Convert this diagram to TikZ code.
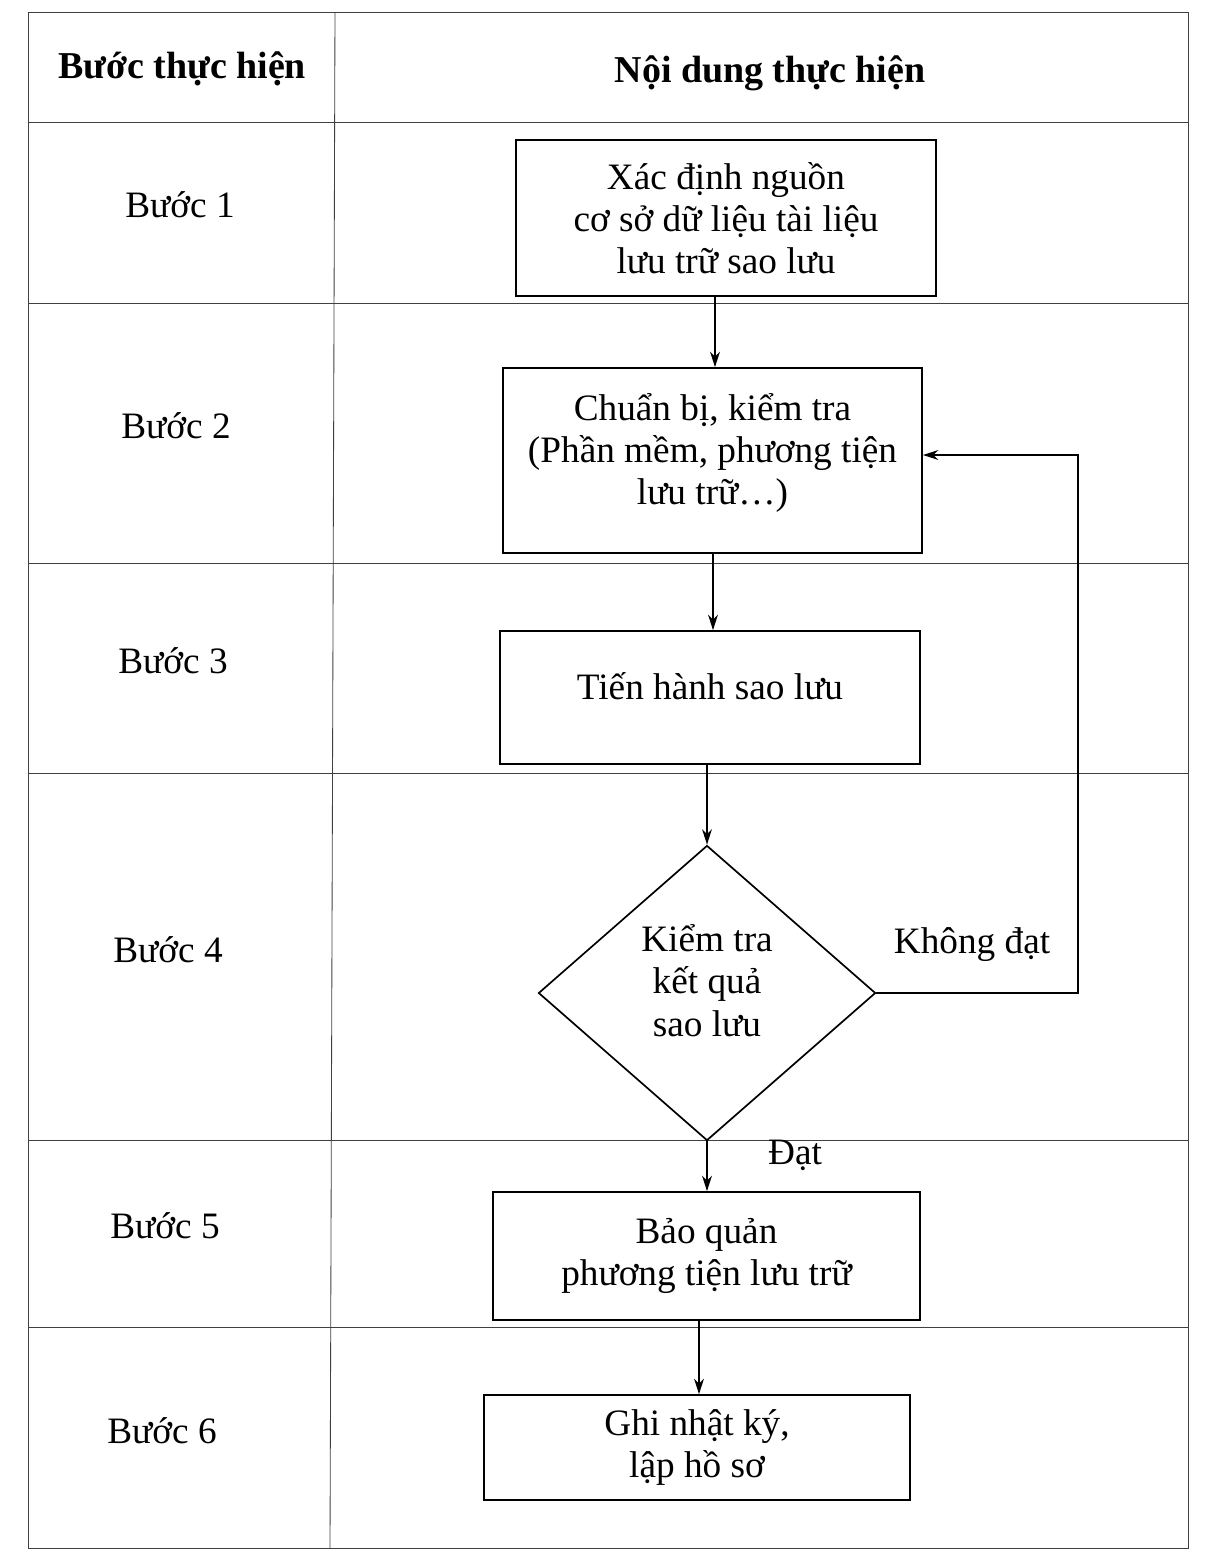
\documentclass[tikz,border=0pt]{standalone}
\usepackage{fontspec}
\setmainfont{Liberation Serif}
\usetikzlibrary{shapes.geometric,arrows.meta}
\begin{document}
\begin{tikzpicture}[x=0.025cm,y=-0.025cm,
    grid/.style={line width=0.6pt,black!75},
    txt/.style={font=\fontsize{26.5}{30}\selectfont,align=center},
    stepbox/.style={draw,line width=1.2pt,inner sep=0pt,font=\fontsize{26.5}{30}\selectfont,align=center},
    check/.style={draw,diamond,line width=1.2pt,inner sep=0pt,font=\fontsize{26.5}{30}\selectfont,align=center},
    >={Stealth[length=11pt,width=7pt]}]
  \useasboundingbox (0,0) rectangle (1213,1553);
  % table
  \draw[grid] (28,12) rectangle (1188,1548);
  \draw[grid] (335,12) -- (330,1548);
  \foreach \y in {122,303,563,773,1140,1327}
    \draw[grid] (28,\y) -- (1188,\y);
  % header
  \node[txt,font=\fontsize{27}{30}\selectfont\bfseries] (h1) at (182,69) {Bước thực hiện};
  \node[txt,font=\fontsize{27}{30}\selectfont\bfseries] (h2) at (770,73) {Nội dung thực hiện};
  \node[txt] (s1) at (180,205) {Bước 1};
  \node[txt] (s2) at (176,426) {Bước 2};
  \node[txt] (s3) at (173,661) {Bước 3};
  \node[txt] (s4) at (168,950) {Bước 4};
  \node[txt] (s5) at (165,1226) {Bước 5};
  \node[txt] (s6) at (162,1431) {Bước 6};
  % flow
  \node[stepbox,minimum width=10.5cm,minimum height=3.9cm] (1) at (726,218)
    {Xác định nguồn\\cơ sở dữ liệu tài liệu\\lưu trữ sao lưu};
  \node[stepbox,minimum width=10.475cm,minimum height=4.625cm] (2) at (712.5,460.5)
    {Chuẩn bị, kiểm tra\\(Phần mềm, phương tiện\\lưu trữ…)\\[-14pt]};
  \node[stepbox,minimum width=10.5cm,minimum height=3.325cm] (3) at (710,697.5)
    {Tiến hành sao lưu\\[-14pt]};
  \node[check,minimum width=8.425cm,minimum height=7.375cm] (4) at (707,993)
    {Kiểm tra\\kết quả\\sao lưu\\[-12pt]};
  \node[stepbox,minimum width=10.675cm,minimum height=3.2cm] (5) at (706.5,1256)
    {Bảo quản\\phương tiện lưu trữ};
  \node[stepbox,minimum width=10.65cm,minimum height=2.625cm] (6) at (697,1447.5)
    {Ghi nhật ký,\\lập hồ sơ};
  \coordinate (a1) at (715,0);
  \coordinate (a2) at (713,0);
  \coordinate (a3) at (707,0);
  \coordinate (a5) at (699,0);
  \coordinate (c1) at (1078,993);
  \coordinate (c2) at (1078,455);
  \begin{scope}[->,line width=1.2pt]
    \draw (a1 |- 1.south) -- (a1 |- 2.north);
    \draw (a2 |- 2.south) -- (a2 |- 3.north);
    \draw (a3 |- 3.south) -- (4.north);
    \draw (4.south) -- (a3 |- 5.north);
    \draw (a5 |- 5.south) -- (a5 |- 6.north);
    \draw (4.east) -- (c1) -- (c2) -- (2.east |- c2);
  \end{scope}
  \node[txt] (yes) at (795,1155) {Đạt};
  \node[txt] (no) at (972,945) {Không đạt};
\end{tikzpicture}
\end{document}
